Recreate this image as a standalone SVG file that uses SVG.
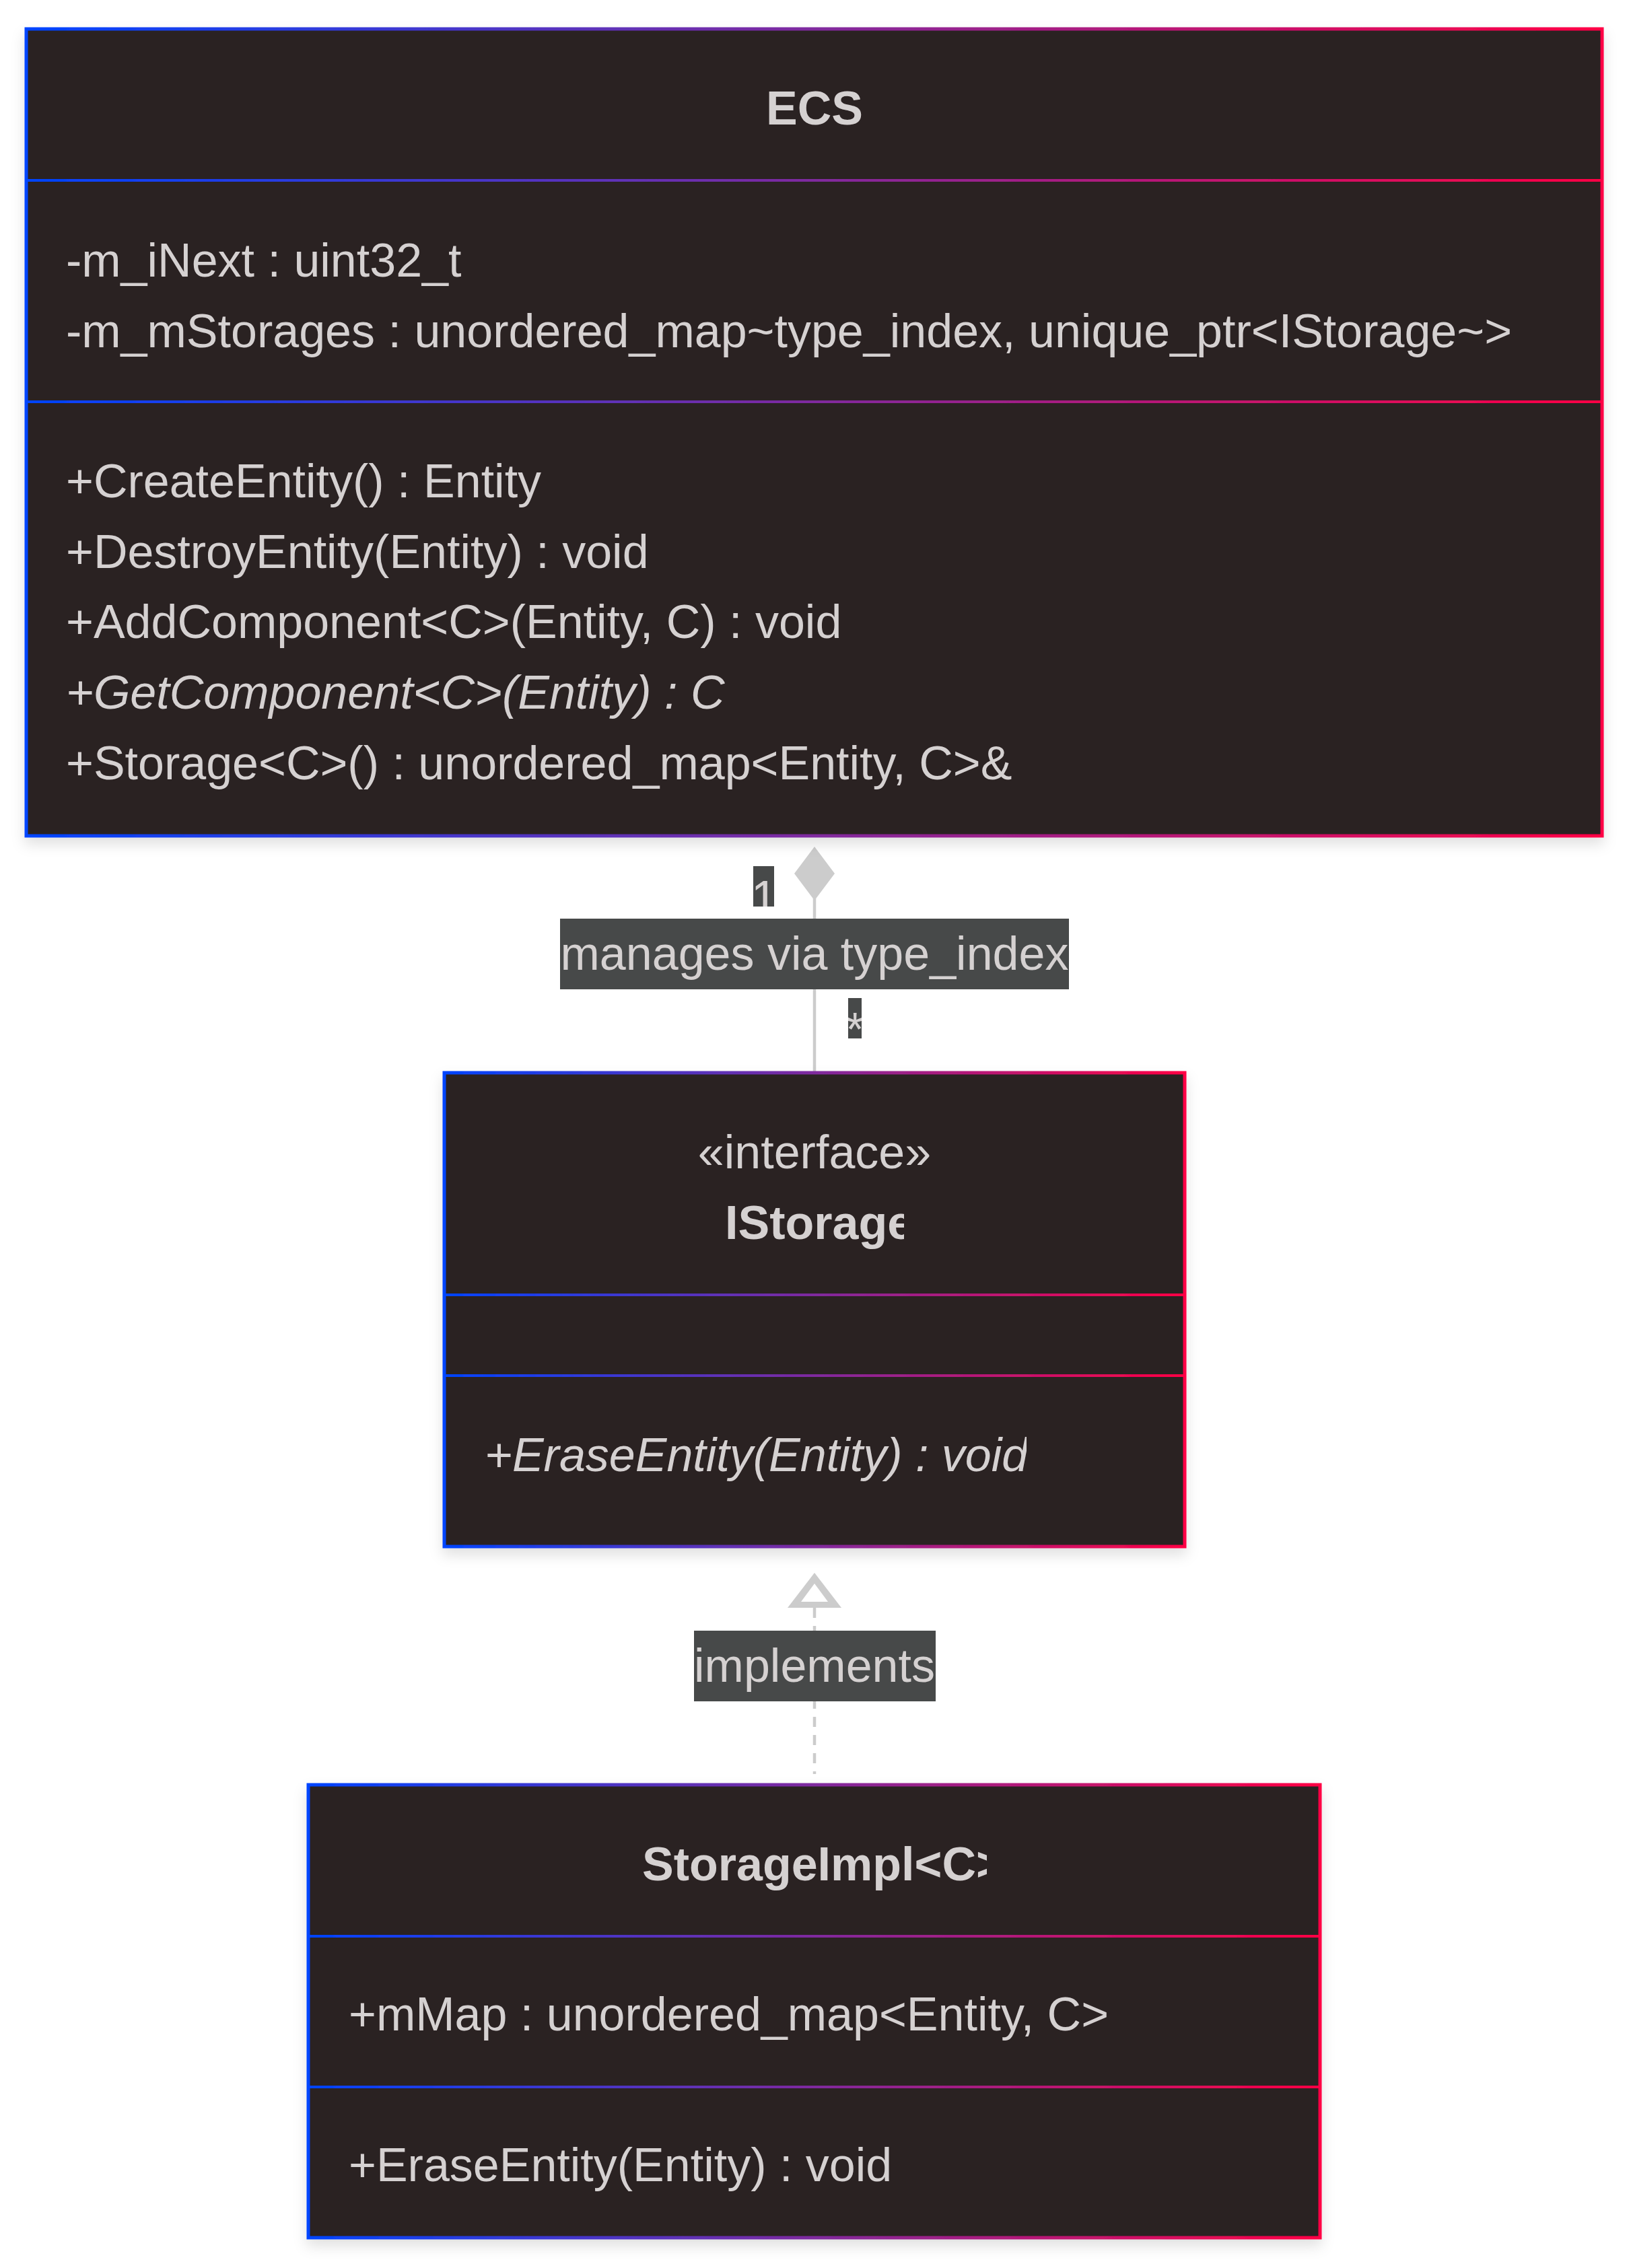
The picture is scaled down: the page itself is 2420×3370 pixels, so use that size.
<svg xmlns="http://www.w3.org/2000/svg" width="2420" height="3370" viewBox="0 0 2420 3370">
<style>
.t{font-family:"Liberation Sans",Arial,sans-serif;font-size:70px;fill:#d5d1d1}
.b{font-weight:bold}
.i{font-style:italic}
.m{text-anchor:middle}
.box{fill:#2a2021;stroke:url(#g);stroke-width:5}
.div{fill:url(#g)}
.lbl{fill:#474949}
.edge{stroke:#cccccc;stroke-width:4.5;fill:none}
</style>
<defs>
<linearGradient id="g" x1="0" y1="0" x2="1" y2="0">
<stop offset="0" stop-color="#0044ff"/>
<stop offset="0.5" stop-color="#7f2a9e"/>
<stop offset="1" stop-color="#ff0044"/>
</linearGradient>
<filter id="sh" x="-5%" y="-5%" width="110%" height="115%">
<feDropShadow dx="0" dy="10" stdDeviation="10" flood-color="#000" flood-opacity="0.12"/>
</filter>
<clipPath id="cIS"><rect x="1077" y="1760" width="266" height="110"/></clipPath>
<clipPath id="cISm"><rect x="700" y="2120" width="825" height="110"/></clipPath>
<clipPath id="cSI"><rect x="954" y="2720" width="512" height="110"/></clipPath>
<clipPath id="c1"><rect x="1119" y="1287" width="31" height="60"/></clipPath>
<clipPath id="cStar"><rect x="1260" y="1483" width="20" height="60"/></clipPath>
</defs>

<g id="connectors">
<g id="edge-ecs-istorage">
<line class="edge" x1="1210" y1="1335" x2="1210" y2="1594"/>
<polygon points="1210,1258 1240,1298 1210,1338 1180,1298" fill="#cccccc"/>
<rect class="lbl" x="832" y="1365" width="756" height="105"/>
<text class="t m" x="1210" y="1441">manages via type_index</text>
<rect class="lbl" x="1119" y="1287" width="31" height="60"/>
<text class="t" x="1116" y="1358" clip-path="url(#c1)">1</text>
<rect class="lbl" x="1260" y="1483" width="20" height="60"/>
<text class="t m" x="1270" y="1554" clip-path="url(#cStar)">*</text>
</g>
<g id="edge-impl-istorage">
<line class="edge" x1="1210" y1="2389" x2="1210" y2="2636" stroke-dasharray="15 12"/>
<polygon points="1210,2337 1250,2389 1170,2389" fill="#cccccc"/>
<polygon points="1210,2353 1230,2380 1190,2380" fill="#ffffff"/>
<rect class="lbl" x="1031" y="2423" width="359" height="105"/>
<text class="t m" x="1210" y="2499">implements</text>
</g>
</g>

<g id="node-ECS" filter="url(#sh)">
<rect class="box" x="39" y="43" width="2341" height="1199"/>
<rect class="div" x="39" y="266" width="2341" height="4"/>
<rect class="div" x="39" y="595" width="2341" height="4"/>
<text class="t b m" x="1210" y="185">ECS</text>
<text class="t" x="98" y="411">-m_iNext : uint32_t</text>
<text class="t" x="98" y="516">-m_mStorages : unordered_map~type_index, unique_ptr&lt;IStorage~&gt;</text>
<text class="t" x="98" y="739">+CreateEntity() : Entity</text>
<text class="t" x="98" y="844">+DestroyEntity(Entity) : void</text>
<text class="t" x="98" y="948">+AddComponent&lt;C&gt;(Entity, C) : void</text>
<text class="t i" x="98" y="1053">+GetComponent&lt;C&gt;(Entity) : C</text>
<text class="t" x="98" y="1158">+Storage&lt;C&gt;() : unordered_map&lt;Entity, C&gt;&amp;</text>
</g>

<g id="node-IStorage" filter="url(#sh)">
<rect class="box" x="660" y="1594" width="1100" height="704"/>
<rect class="div" x="660" y="1922" width="1100" height="4"/>
<rect class="div" x="660" y="2042" width="1100" height="4"/>
<text class="t m" x="1210" y="1736">«interface»</text>
<text class="t b" x="1077" y="1841" clip-path="url(#cIS)">IStorage</text>
<text class="t i" x="720" y="2186" clip-path="url(#cISm)">+EraseEntity(Entity) : void</text>
</g>

<g id="node-StorageImpl" filter="url(#sh)">
<rect class="box" x="458" y="2652" width="1503" height="673"/>
<rect class="div" x="458" y="2875" width="1503" height="4"/>
<rect class="div" x="458" y="3099" width="1503" height="4"/>
<text class="t b" x="954" y="2794" clip-path="url(#cSI)">StorageImpl&lt;C&gt;</text>
<text class="t" x="518" y="3017">+mMap : unordered_map&lt;Entity, C&gt;</text>
<text class="t" x="518" y="3241">+EraseEntity(Entity) : void</text>
</g>
</svg>
